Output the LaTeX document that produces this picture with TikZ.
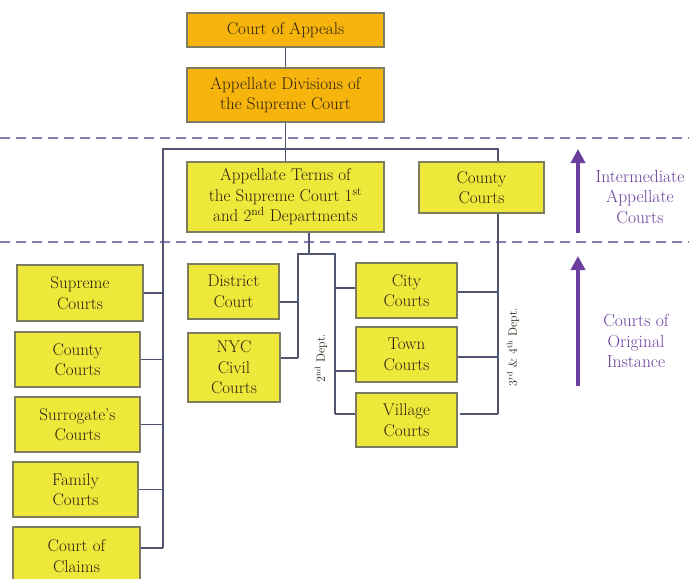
\documentclass[tikz,border=0pt]{standalone}
\usetikzlibrary{arrows.meta}
\definecolor{boxyellow}{HTML}{EDE83A}
\definecolor{boxorange}{HTML}{F6B40C}
\definecolor{boxedge}{HTML}{7D7B60}
\definecolor{wirecol}{HTML}{4F5470}
\definecolor{tierline}{HTML}{8A7DB0}
\definecolor{tierarrow}{HTML}{6A3F9E}
\definecolor{boxtext}{HTML}{2A2012}
\begin{document}
\begin{tikzpicture}[x=1pt,y=-1pt,
  court/.style={draw=boxedge, line width=1.5pt, fill=boxyellow, text=boxtext,
    align=center, inner sep=0pt, font=\fontsize{17}{20.5}\selectfont},
  topcourt/.style={court, fill=boxorange},
  wire/.style={draw=wirecol, line width=1.2pt},
  tier/.style={draw=tierline, line width=2pt, dash pattern=on 10pt off 6pt},
  rise/.style={draw=tierarrow, line width=3.5pt,
    -{Triangle[width=14pt,length=14pt]}},
  tierlabel/.style={text=tierarrow, align=center, font=\fontsize{17.5}{20.5}\selectfont},
  deptlabel/.style={text=boxtext, rotate=90, font=\fontsize{12}{14}\selectfont}]
\useasboundingbox (0,0) rectangle (689,579);
\fill[white] (0,0) rectangle (689,579);

% tier dividers
\draw[tier] (0,138) -- (689,138);
\draw[tier] (0,242) -- (689,242);

% appellate levels
\node[topcourt, minimum width=197pt, minimum height=34pt] (coa) at (285.5,30) {Court of Appeals};
\node[topcourt, minimum width=197pt, minimum height=54pt] (ad) at (285.5,95) {Appellate Divisions of\\the Supreme Court};
\node[court, minimum width=197pt, minimum height=70pt] (at) at (285.5,197)
  {Appellate Terms of\\the Supreme Court 1\textsuperscript{st}\\and 2\textsuperscript{nd} Departments};
\node[court, minimum width=125pt, minimum height=51pt] (cc) at (481.5,187.5) {County\\Courts};

% courts of original instance, left column
\node[court, minimum width=126pt, minimum height=56pt] (sup) at (80,293) {Supreme\\Courts};
\node[court, minimum width=125pt, minimum height=55pt] (cty) at (77.5,359.5) {County\\Courts};
\node[court, minimum width=125pt, minimum height=55pt] (sur) at (77.5,424.5) {Surrogate's\\Courts};
\node[court, minimum width=125pt, minimum height=55pt] (fam) at (75.5,489.5) {Family\\Courts};
\node[court, minimum width=127pt, minimum height=58pt] (clm) at (76.5,556) {Court of\\Claims};

% middle columns
\node[court, minimum width=91pt, minimum height=55pt] (dis) at (233.5,291.5) {District\\Court};
\node[court, minimum width=92pt, minimum height=69pt] (nyc) at (234,367.5) {NYC\\Civil\\Courts};
\node[court, minimum width=101pt, minimum height=55pt] (city) at (406.5,290.5) {City\\Courts};
\node[court, minimum width=101pt, minimum height=55pt] (town) at (406.5,354.5) {Town\\Courts};
\node[court, minimum width=101pt, minimum height=54pt] (vil) at (406.5,420) {Village\\Courts};

% bus points
\coordinate (lt) at (163,149);
\coordinate (rt) at (498,149);
\coordinate (lb) at (163,548);
\coordinate (atdrop) at (309,254);
\coordinate (mL) at (298,254);
\coordinate (mR) at (335,254);
\coordinate (disk) at (298,302);
\coordinate (nyck) at (298,358);
\coordinate (cityk) at (335,288);
\coordinate (townk) at (335,371);
\coordinate (vilk) at (335,414);
\coordinate (rcity) at (498,292);
\coordinate (rtown) at (498,357);
\coordinate (rvil) at (498,414);

% connectors
\draw[wire] (coa.south) -- (ad.north);
\draw[wire] (ad.south) -- (at.north);
\draw[wire] (lb) -- (lt) -- (rt) -- (rt |- cc.north);
\draw[wire] (sup.east) -- (sup.east -| lt);
\draw[wire] (cty.east) -- (cty.east -| lt);
\draw[wire] (sur.east) -- (sur.east -| lt);
\draw[wire] (fam.east) -- (fam.east -| lt);
\draw[wire] (clm.east |- lb) -- (lb);

\draw[wire] (at.south -| atdrop) -- (atdrop);
\draw[wire] (nyck) -- (mL) -- (mR) -- (vilk);
\draw[wire] (dis.east |- disk) -- (disk);
\draw[wire] (nyc.east |- nyck) -- (nyck);
\draw[wire] (cityk) -- (city.west |- cityk);
\draw[wire] (townk) -- (town.west |- townk);
\draw[wire] (vilk) -- (vil.west |- vilk);

\draw[wire] (cc.south -| rvil) -- (rvil);
\draw[wire] (city.east |- rcity) -- (rcity);
\draw[wire] (town.east |- rtown) -- (rtown);
\draw[wire] ([xshift=2pt]vil.east |- rvil) -- (rvil);

\node[deptlabel] (d2) at (321,358) {2\textsuperscript{nd} Dept.};
\node[deptlabel] (d34) at (513,347) {3\textsuperscript{rd} \& 4\textsuperscript{th} Dept.};

% tier arrows and labels
\coordinate (a1s) at (578,233);
\coordinate (a1e) at (578,149);
\coordinate (a2s) at (578,386);
\coordinate (a2e) at (578,256);
\draw[rise] (a1s) -- (a1e);
\draw[rise] (a2s) -- (a2e);
\node[tierlabel] (tl1) at (640,197) {Intermediate\\Appellate\\Courts};
\node[tierlabel] (tl2) at (636,341) {Courts of\\Original\\Instance};
\end{tikzpicture}
\end{document}
